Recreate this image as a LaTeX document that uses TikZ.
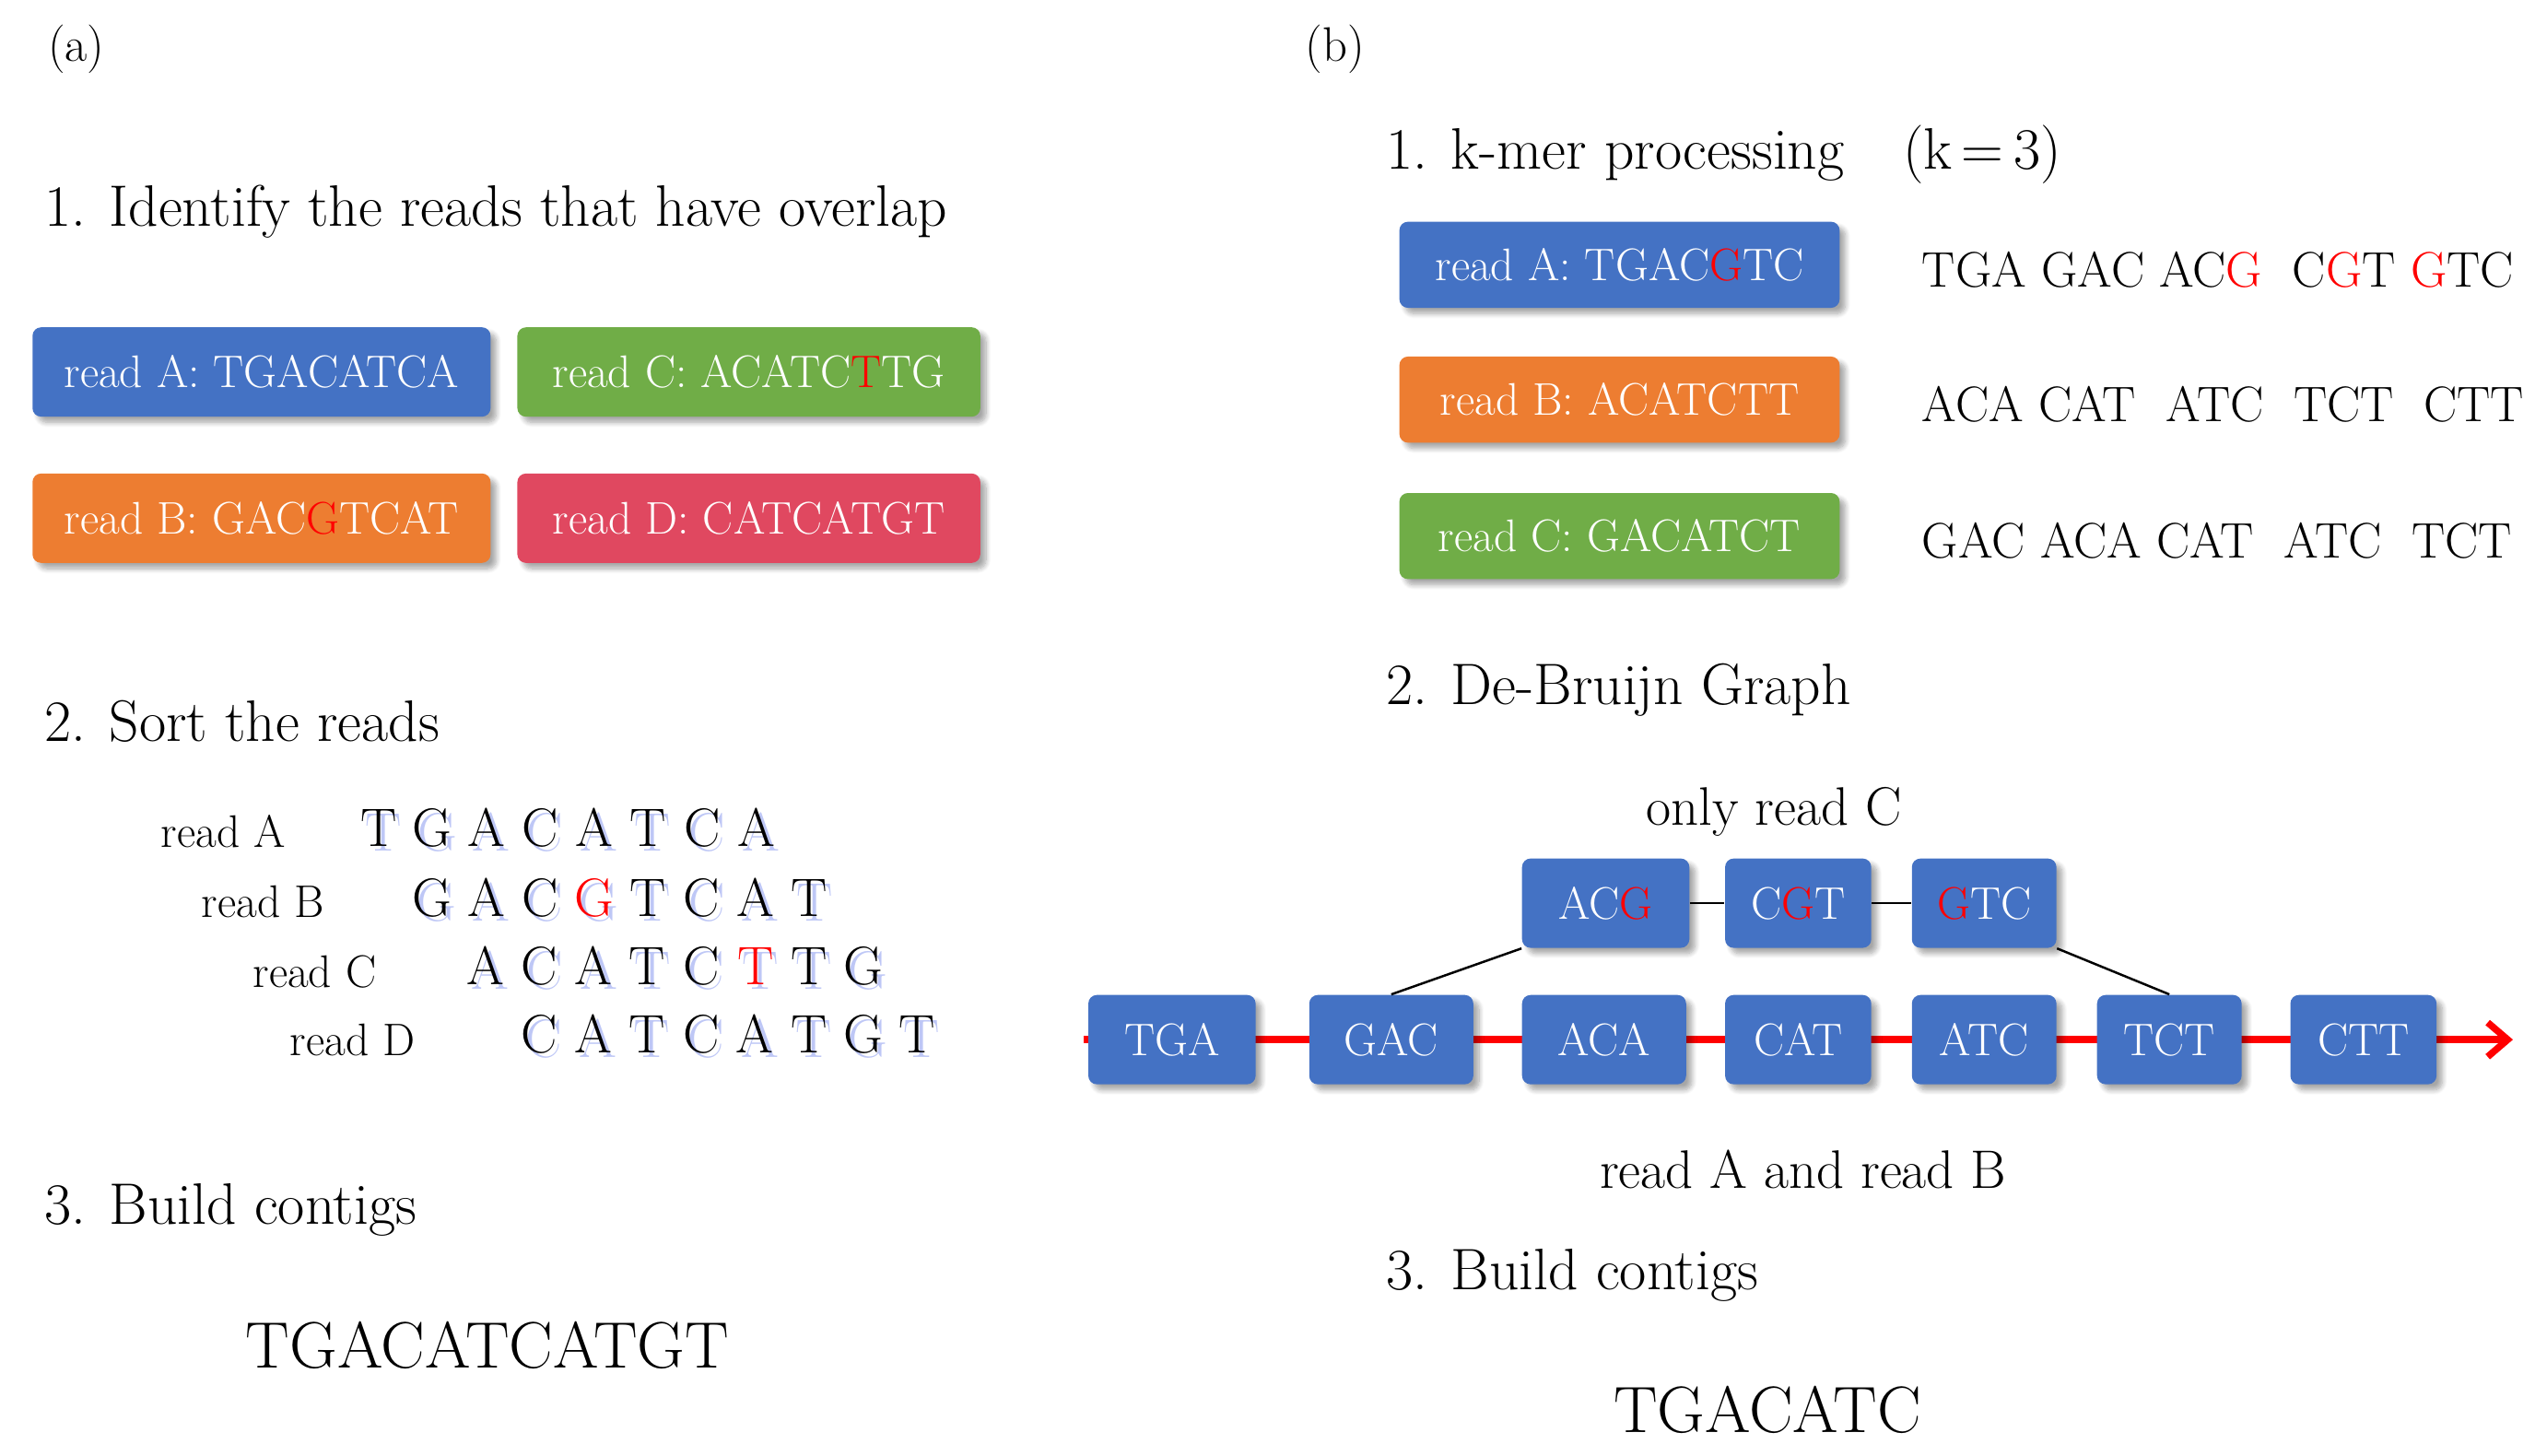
\documentclass[tikz,border=0pt]{standalone}
\usetikzlibrary{shadows.blur,arrows.meta}
\definecolor{bA}{RGB}{68,114,196}
\definecolor{bG}{RGB}{112,173,71}
\definecolor{bO}{RGB}{237,125,49}
\definecolor{bR}{RGB}{224,72,96}
\definecolor{shc}{RGB}{110,130,235}
\newcommand{\rd}[1]{\textcolor{red}{#1}}
\begin{document}
\begin{tikzpicture}[x=0.02cm,y=-0.02cm,
  box/.style={rounded corners=3pt,text=white,inner sep=0pt,font=\fontsize{16}{18}\selectfont,
    blur shadow={shadow xshift=2pt,shadow yshift=-2pt,shadow blur steps=8,shadow opacity=35}},
  head/.style={anchor=west,font=\fontsize{20.5}{24}\selectfont,inner sep=0pt},
  lab/.style={font=\fontsize{16}{18}\selectfont,inner sep=0pt},
  seq/.style={font=\fontsize{19}{22}\selectfont,inner sep=0pt,anchor=base},
  km/.style={anchor=west,font=\fontsize{17.5}{22}\selectfont,inner sep=0pt},
  gb/.style={fill=bA,rounded corners=3pt,text=white,font=\fontsize{16}{18}\selectfont,inner sep=0pt,
    blur shadow={shadow xshift=2pt,shadow yshift=-2pt,shadow blur steps=8,shadow opacity=35}},
]
\useasboundingbox (0,0) rectangle (1568,896);
% ---------- (a)
\node[lab,font=\fontsize{17}{20}\selectfont] (la) at (47,30) {(a)};
\node[head] (a1) at (27,130) {1. Identify the reads that have overlap};
\node[box,fill=bA,minimum width=282*0.02cm,minimum height=55*0.02cm] (rA) at (161,229) {read A: TGACATCA};
\node[box,fill=bG,minimum width=285*0.02cm,minimum height=55*0.02cm] (rC) at (461,229) {read C: ACATC\rd{T}TG};
\node[box,fill=bO,minimum width=282*0.02cm,minimum height=55*0.02cm] (rB) at (161,319) {read B: GAC\rd{G}TCAT};
\node[box,fill=bR,minimum width=285*0.02cm,minimum height=55*0.02cm] (rD) at (461,319) {read D: CATCATGT};
\node[head] (a2) at (27,444) {2. Sort the reads};
\node[lab,anchor=east] (sA) at (176,512) {read A};
\node[lab,anchor=east] (sB) at (200,555) {read B};
\node[lab,anchor=east] (sC) at (232,598) {read C};
\node[lab,anchor=east] (sD) at (256,640) {read D};
\foreach \y/\x/\s/\r in {521/233/{T,G,A,C,A,T,C,A}/9,564/266/{G,A,C,G,T,C,A,T}/3,606/299/{A,C,A,T,C,T,T,G}/5,648/332/{C,A,T,C,A,T,G,T}/9}{
  \foreach \c [count=\i from 0] in \s {
    \node[seq,text=shc!45] at (\x+\i*33.2+3,\y+3) {\c};
    \ifnum\i=\r \node[seq,text=red] at (\x+\i*33.2,\y) {\c};
    \else \node[seq] at (\x+\i*33.2,\y) {\c}; \fi
  }
}
\node[head] (a3) at (27,745) {3. Build contigs};
\node[font=\fontsize{23}{26}\selectfont,inner sep=0pt] (ca) at (300,828) {TGACATCATGT};
% ---------- (b)
\node[lab,font=\fontsize{17}{20}\selectfont] (lb) at (822,30) {(b)};
\node[head] (b1) at (853,95) {1. k-mer processing\quad(k\,=\,3)};
\node[box,fill=bA,minimum width=271*0.02cm,minimum height=53*0.02cm] (kA) at (997,163) {read A: TGAC\rd{G}TC};
\node[box,fill=bO,minimum width=271*0.02cm,minimum height=53*0.02cm] (kB) at (997,246) {read B: ACATCTT};
\node[box,fill=bG,minimum width=271*0.02cm,minimum height=53*0.02cm] (kC) at (997,330) {read C: GACATCT};
\node[km] (mA) at (1183,166) {TGA GAC AC\rd{G}\ \ C\rd{G}T \rd{G}TC};
\node[km] (mB) at (1183,249) {ACA CAT\ \ ATC\ \ TCT\ \ CTT};
\node[km] (mC) at (1183,333) {GAC ACA CAT\ \ ATC\ \ TCT};
\node[head] (b2) at (853,425) {2. De-Bruijn Graph};
\node[font=\fontsize{19}{22}\selectfont,inner sep=0pt] (oc) at (1092,500) {only read C};
\coordinate (end) at (1547,640);
\coordinate (st) at (667,640);
\draw[red,line width=2.4pt,-{Straight Barb[length=7pt,width=12pt]}] (st) -- (end);
\foreach \n/\t/\xa/\xb in {ACG/{AC\rd{G}}/937/1040,CGT/{C\rd{G}T}/1062/1152,GTC/{\rd{G}TC}/1177/1266}{
  \node[gb,minimum width={(\xb-\xa)*0.02cm},minimum height=55*0.02cm] (\n) at ({(\xa+\xb)/2},556) {\t};
}
\foreach \n/\xa/\xb in {TGA/670/773,GAC/806/907,ACA/937/1038,CAT/1062/1152,ATC/1177/1266,TCT/1291/1380,CTT/1410/1500}{
  \node[gb,minimum width={(\xb-\xa)*0.02cm},minimum height=55*0.02cm] (\n) at ({(\xa+\xb)/2},640) {\n};
}
\draw[line width=0.8pt] (ACG) -- (CGT);
\draw[line width=0.8pt] (CGT) -- (GTC);
\draw[line width=0.8pt] (GAC.north) -- (ACG.south west);
\draw[line width=0.8pt] (GTC.south east) -- (TCT.north);
\node[font=\fontsize{19}{22}\selectfont,inner sep=0pt] (rab) at (1110,720) {read A and read B};
\node[head] (b3) at (853,785) {3. Build contigs};
\node[font=\fontsize{23}{26}\selectfont,inner sep=0pt] (cb) at (1088,868) {TGACATC};
\end{tikzpicture}
\end{document}
